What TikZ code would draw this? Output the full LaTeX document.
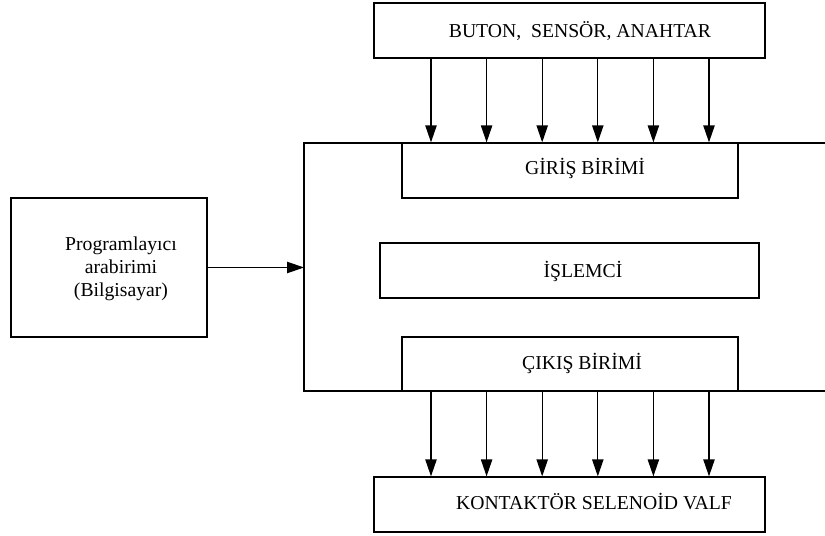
\documentclass[tikz,border=0pt]{standalone}
\usepackage{fontspec}
\setmainfont{Liberation Serif}
\usetikzlibrary{arrows.meta}
\usetikzlibrary{positioning}

\tikzset{
    kasten/.style={draw, line width=0.9pt, inner sep=0pt},
    beschriftung/.style={anchor=base, inner sep=0pt},
    pfeil/.style={-{Triangle[length=12pt,width=8pt]}, line width=0.9pt}
}

\begin{document}
\begin{tikzpicture}[x=0.025cm, y=-0.025cm, font=\fontsize{14}{16.5}\selectfont]
    \useasboundingbox (0,0) rectangle (825,536);

    % Kästen
    \node[kasten, minimum width=9.775cm, minimum height=1.375cm] (eingabe) at (569.5,30.5) {};
    \node[kasten, minimum width=8.4cm, minimum height=1.375cm] (giris) at (570,170.5) {};
    \node[kasten, minimum width=9.475cm, minimum height=1.375cm] (islemci) at (569.5,270.5) {};
    \node[kasten, minimum width=8.4cm, minimum height=1.35cm] (cikis) at (570,364) {};
    \node[kasten, minimum width=9.775cm, minimum height=1.375cm] (ausgabe) at (569.5,504.5) {};
    \node[kasten, minimum width=4.9cm, minimum height=3.475cm] (programm) at (109,267.5) {};

    % Rahmen der Steuerung (rechts offen)
    \draw[line width=0.9pt] (825,143) -- (304,143) -- (304,391) -- (825,391);
    \coordinate (rahmen) at (304,265);

    % Beschriftungen
    \node[beschriftung] (eingabetext) at (580,38) {BUTON,\ \ SENSÖR, ANAHTAR};
    \node[beschriftung] (giristext) at (585,175) {GİRİŞ BİRİMİ};
    \node[beschriftung] (islemcitext) at (583,278) {İŞLEMCİ};
    \node[beschriftung] (cikistext) at (582,370) {ÇIKIŞ BİRİMİ};
    \node[beschriftung] (ausgabetext) at (594,510) {KONTAKTÖR SELENOİD VALF};
    \node[align=center, inner sep=0pt] (programmtext) at (121,269) {Programlayıcı\\arabirimi\\(Bilgisayar)};

    % Pfeile zu und von den Einheiten
    \foreach \i in {0,...,5} {
        \coordinate (x\i) at ({431+55.6*\i},0);
        \draw[pfeil] (x\i |- eingabe.south) -- (x\i |- giris.north);
        \draw[pfeil] (x\i |- cikis.south) -- (x\i |- ausgabe.north);
    }

    % Programlayıcı zur Steuerung
    \draw[pfeil] (programm.east) -- (programm.east -| rahmen);
\end{tikzpicture}
\end{document}
